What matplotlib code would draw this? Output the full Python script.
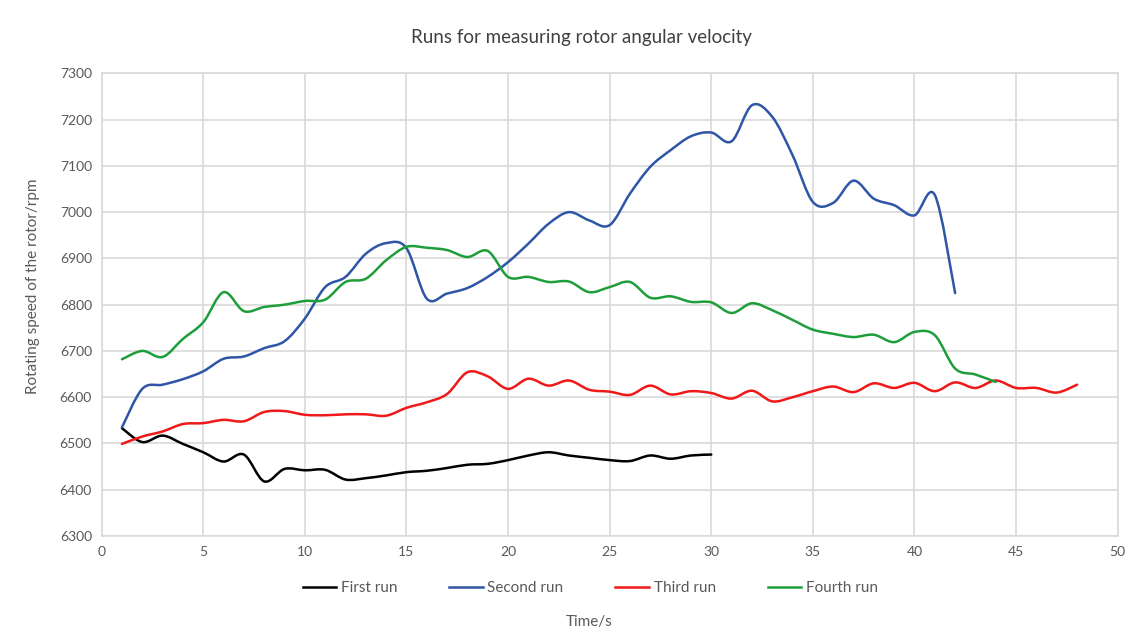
import matplotlib
matplotlib.use("Agg")
import matplotlib.pyplot as plt
from matplotlib.path import Path
from matplotlib.patches import PathPatch
from matplotlib.lines import Line2D
import numpy as np

plt.rcParams['font.family'] = ['Lato', 'DejaVu Sans']

t1 = list(range(1, 31))
first_run = [6533, 6503, 6517, 6499, 6481, 6461, 6476, 6418, 6445, 6442,
             6443, 6422, 6425, 6431, 6438, 6441, 6447, 6454, 6456, 6464,
             6474, 6481, 6474, 6469, 6464, 6462, 6474, 6467, 6474, 6476]

t2 = list(range(1, 43))
second_run = [6535, 6618, 6627, 6639, 6656, 6683, 6688, 6706, 6721, 6770,
              6838, 6860, 6910, 6933, 6922, 6813, 6824, 6836, 6860, 6892,
              6932, 6975, 7000, 6982, 6972, 7040, 7098, 7134, 7164, 7172,
              7153, 7231, 7206, 7123, 7022, 7020, 7068, 7029, 7015, 6993,
              7037, 6825]

t3 = list(range(1, 49))
third_run = [6499, 6515, 6526, 6542, 6544, 6551, 6548, 6568, 6570, 6562,
             6561, 6563, 6563, 6560, 6577, 6589, 6607, 6654, 6645, 6618,
             6640, 6625, 6636, 6616, 6612, 6605, 6625, 6606, 6613, 6609,
             6597, 6614, 6591, 6600, 6613, 6623, 6611, 6630, 6620, 6631,
             6613, 6632, 6620, 6636, 6620, 6620, 6610, 6627]

t4 = list(range(1, 45))
fourth_run = [6682, 6700, 6687, 6726, 6762, 6827, 6786, 6795, 6800, 6808,
              6811, 6849, 6856, 6896, 6925, 6923, 6918, 6903, 6916, 6860,
              6860, 6849, 6850, 6827, 6838, 6849, 6815, 6818, 6806, 6805,
              6782, 6803, 6788, 6767, 6746, 6737, 6730, 6735, 6719, 6741,
              6734, 6662, 6649, 6633]

series = [
    ("First run", t1, first_run, "#000000"),
    ("Second run", t2, second_run, "#2F55A6"),
    ("Third run", t3, third_run, "#F01818"),
    ("Fourth run", t4, fourth_run, "#1E9E3A"),
]


def smooth_path(x, y):
    x = np.asarray(x, float)
    y = np.asarray(y, float)
    n = len(x)
    verts = [(x[0], y[0])]
    codes = [Path.MOVETO]
    for i in range(n - 1):
        x0, y0 = (x[i - 1], y[i - 1]) if i > 0 else (x[i], y[i])
        x3, y3 = (x[i + 2], y[i + 2]) if i + 2 < n else (x[i + 1], y[i + 1])
        c1 = (x[i] + (x[i + 1] - x0) / 6.0, y[i] + (y[i + 1] - y0) / 6.0)
        c2 = (x[i + 1] - (x3 - x[i]) / 6.0, y[i + 1] - (y3 - y[i]) / 6.0)
        verts += [c1, c2, (x[i + 1], y[i + 1])]
        codes += [Path.CURVE4] * 3
    return Path(verts, codes)


fig = plt.figure(figsize=(11.46, 6.42), dpi=100)
ax = fig.add_axes([0.0887, 0.1651, 0.8866, 0.7207])

handles = []
for name, t, v, c in series:
    patch = PathPatch(smooth_path(t, v), fill=False, edgecolor=c, lw=1.8,
                      capstyle='round', joinstyle='round', zorder=3)
    ax.add_patch(patch)
    handles.append(Line2D([], [], color=c, lw=1.8, label=name))

ax.set_xlim(0, 50)
ax.set_ylim(6300, 7300)
ax.set_xticks(range(0, 51, 5))
ax.set_yticks(range(6300, 7301, 100))
ax.grid(True, color="#D9D9D9", lw=1.2)
ax.set_axisbelow(True)
for s in ax.spines.values():
    s.set_color("#D9D9D9")
    s.set_linewidth(1.2)
ax.tick_params(length=0, labelsize=10, colors="#595959", pad=7)

fig.text(0.507, 1 - 37 / 642, "Runs for measuring rotor angular velocity",
         fontsize=13.5, color="#404040", ha="center", va="center")
fig.text(33 / 1146, 1 - 286 / 642, "Rotating speed of the rotor/rpm",
         fontsize=11, color="#595959", rotation=90, ha="center", va="center")
fig.text(589 / 1146, 1 - 622 / 642, "Time/s", fontsize=11, color="#595959",
         ha="center", va="center")

fig.legend(handles=handles, loc="center", bbox_to_anchor=(0.515, 1 - 588 / 642),
           ncol=4, frameon=False, fontsize=11, handlelength=2.2,
           handletextpad=0.3, columnspacing=3.4, labelcolor="#595959")

fig.savefig("out.png", dpi=100)
